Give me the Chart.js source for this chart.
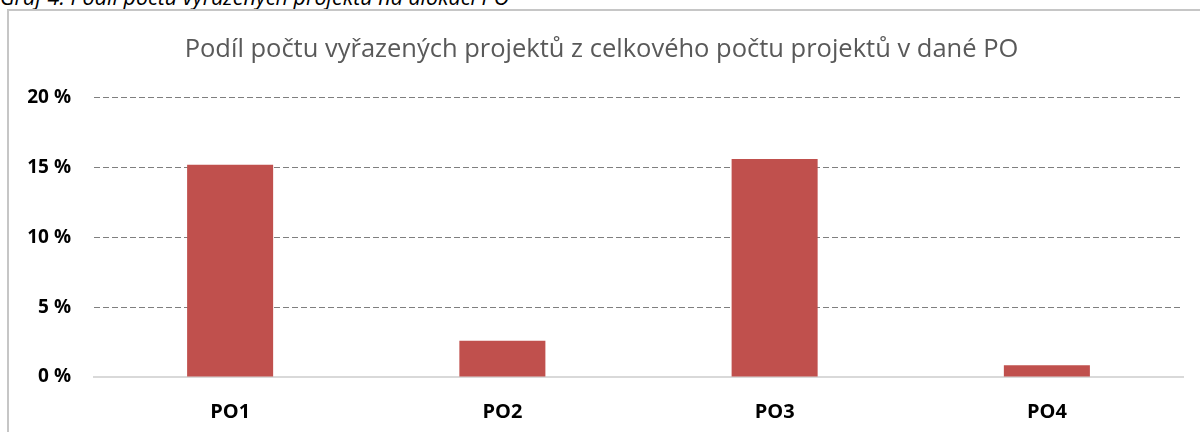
<!DOCTYPE html>
<html>
<head>
<meta charset="utf-8">
<script src="https://cdn.jsdelivr.net/npm/chart.js@4"></script>
<style>
  html, body { margin: 0; padding: 0; background: #fff; overflow: hidden; }
  body { width: 1200px; height: 432px; position: relative; }
  #caption {
    position: absolute; left: 0; top: -18px;
    font-family: "Open Sans", sans-serif; font-style: italic; font-size: 21.5px;
    color: #000; white-space: nowrap;
  }
  #frame {
    position: absolute; left: 7px; top: 9px; width: 1220px; height: 440px;
    border: 2px solid #c6c6c6; box-sizing: border-box;
  }
  #wrap { position: absolute; left: 0; top: 0; width: 1200px; height: 432px; }
</style>
</head>
<body>
<div id="caption">Graf 4: Podíl počtu vyřazených projektů na alokaci PO</div>
<div id="frame"></div>
<div id="wrap"><canvas id="chart" width="1200" height="432"></canvas></div>
<script>
// data (percent)
const categories = ['PO1', 'PO2', 'PO3', 'PO4'];
const shareValues = [15.2, 2.6, 15.6, 0.85];
const yTicks = [0, 5, 10, 15, 20];

const chartTitle = 'Podíl počtu vyřazených projektů z celkového počtu projektů v dané PO';

const ctx = document.getElementById('chart').getContext('2d');
new Chart(ctx, {
  type: 'bar',
  data: {
    labels: categories,
    datasets: [{
      data: shareValues,
      backgroundColor: '#c0504d',
      barPercentage: 0.316,
      categoryPercentage: 1
    }]
  },
  options: {
    responsive: false,
    animation: false,
    layout: { padding: { left: 20, right: 17, top: 0, bottom: 10 } },
    plugins: {
      legend: { display: false },
      tooltip: { enabled: false },
      title: {
        display: true,
        text: chartTitle,
        color: '#595959',
        font: { family: 'Open Sans', size: 25.5, weight: 'normal' },
        padding: { top: 34, bottom: 33 }
      }
    },
    scales: {
      x: {
        afterFit: s => { s.height = 45; },
        grid: { display: false },
        border: { display: true, color: '#d9d9d9', width: 2 },
        ticks: {
          color: '#000',
          padding: 15,
          font: { family: 'Open Sans', size: 20, weight: 'bold' }
        }
      },
      y: {
        min: 0,
        max: 20,
        afterFit: s => { s.width = 74; },
        afterBuildTicks: s => { s.ticks = yTicks.map(v => ({ value: v })); },
        grid: {
          drawTicks: false,
          color: c => (c.tick && c.tick.value === 0) ? 'rgba(0,0,0,0)' : '#7f7f7f',
          lineWidth: 1
        },
        border: { display: false, dash: [6, 3] },
        ticks: {
          color: '#000',
          padding: 23,
          font: { family: 'Open Sans', size: 19, weight: 'bold' },
          callback: v => v + ' %'
        }
      }
    }
  }
});
</script>
</body>
</html>
